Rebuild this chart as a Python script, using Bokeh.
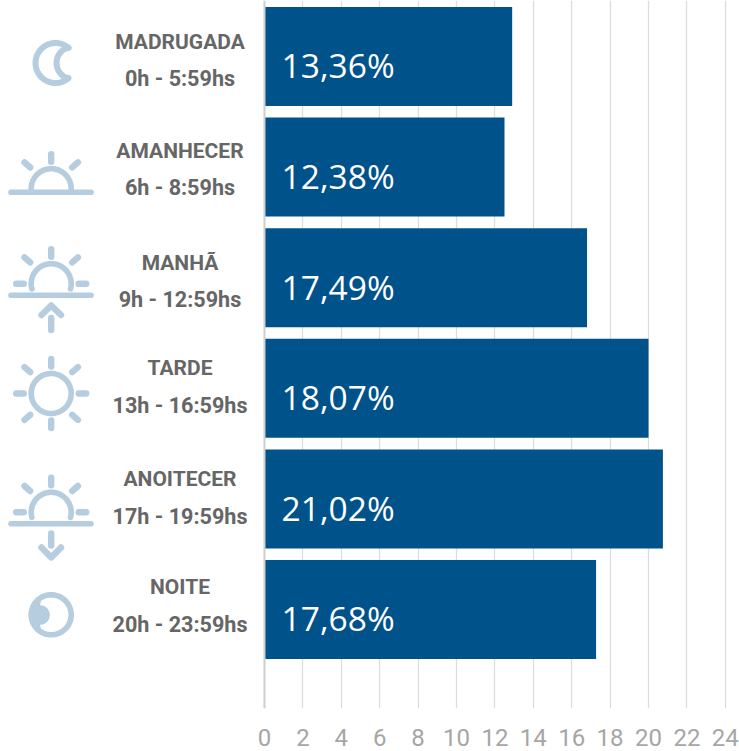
import numpy as np
from bokeh.plotting import figure
from bokeh.models import Range1d, FixedTicker, LinearAxis, Span, Grid
from bokeh.core.properties import value
from bokeh.embed import file_html
from bokeh.resources import INLINE

# data
periods = ["MADRUGADA", "AMANHECER", "MANHÃ", "TARDE", "ANOITECER", "NOITE"]
hours = ["0h - 5:59hs", "6h - 8:59hs", "9h - 12:59hs", "13h - 16:59hs", "17h - 19:59hs", "20h - 23:59hs"]
bar_lengths = [12.9, 12.5, 16.8, 20.0, 20.75, 17.27]
value_labels = ["13,36%", "12,38%", "17,49%", "18,07%", "21,02%", "17,68%"]
ticks = [0, 2, 4, 6, 8, 10, 12, 14, 16, 18, 20, 22, 24]

BLUE = "#00528a"
ICON = "#b5cddf"
GREY = "#666666"
PX = 19.2
X0 = 264.0
L, R, T, B = 0, 739, 0, 708
BOTTOM = 751
band = 110.6
bh = 99 / band

p = figure(width=R - L, height=BOTTOM - T, output_backend="svg", toolbar_location=None,
           x_range=Range1d((L - X0) / PX, (R - X0) / PX),
           y_range=Range1d((B - 56) / band, (T - 56) / band),
           min_border_left=0, min_border_right=0, min_border_top=0, min_border_bottom=BOTTOM - B,
           outline_line_color=None, x_axis_location=None, y_axis_location=None)

p.extra_x_ranges["px"] = Range1d(L, R)
p.extra_y_ranges["px"] = Range1d(B, T)

p.grid.visible = False
ax = LinearAxis(ticker=FixedTicker(ticks=ticks), axis_line_color=None,
                major_tick_line_color=None, minor_tick_line_color=None,
                major_label_text_font="Roboto", major_label_text_font_size="24px",
                major_label_text_color="#a6a6a6", major_label_standoff=14)
p.add_layout(ax, "below")
p.add_layout(Grid(dimension=0, ticker=FixedTicker(ticks=ticks), grid_line_color="#dddddd", grid_line_width=1.3))

ys = list(range(6))
p.add_layout(Span(location=0, dimension="height", line_color="#d0d0d0", line_width=2))
p.hbar(y=ys, right=bar_lengths, left=0, height=bh, fill_color=BLUE, line_color=None)
p.text(x=[0.89] * 6, y=[i + 0.08 for i in ys], text=value_labels, text_color="#ffffff",
       text_font=value("Open Sans"), text_font_size="33.5px", text_baseline="middle", text_align="left")

# labels
ty1 = [41, 150, 262, 367, 478, 586]
ty2 = [78, 187, 299, 405, 516, 624]
tx = [179.5] * 6
for ty, tt, fs in ((ty1, periods, "21px"), (ty2, hours, "21.6px")):
    p.text(x=tx, y=ty, text=tt, x_range_name="px", y_range_name="px", text_color=GREY,
           text_font=value("Roboto"), text_font_style="bold", text_font_size=fs,
           text_align="center", text_baseline="middle")

# icons (decoration), in page pixels
def arc(cx, cy, r, a0, a1, n=60):
    a = np.radians(np.linspace(a0, a1, n))
    return list(cx + r * np.cos(a)), list(cy + r * np.sin(a))

def stroke(xs, ys, w=5.6):
    p.line(xs, ys, x_range_name="px", y_range_name="px", line_color=ICON, line_width=w,
           line_cap="round", line_join="round")

RAY = 6.4

def rays(cy, side=True, bottom=False, cx=50.7):
    stroke([cx, cx], [cy - 34.5, cy - 27], RAY)
    for s in (-1, 1):
        stroke([cx + s * 26.7, cx + s * 21], [cy - 26.3, cy - 21.3], RAY)
        if side:
            stroke([cx + s * 35, cx + s * 27.5], [cy, cy], RAY)
        if bottom:
            stroke([cx + s * 26.7, cx + s * 21], [cy + 26.3, cy + 21.3], RAY)
    if bottom:
        stroke([cx, cx], [cy + 27, cy + 34.5], RAY)

# moon
ox, oy = arc(55, 62.5, 20, -49, -311, 60)
ix, iy = arc(72, 62.5, 16, 105, 255, 40)
stroke(ox + ix + [ox[0]], oy + iy + [oy[0]], 6)

cx = 50.7
hx = [10.5, 90.5]
# sunrise
stroke(hx, [191.7, 191.7])
x, y = arc(cx, 188.2, 20, 170, 370)
stroke(x, y)
rays(188.2, side=False)

# morning
stroke(hx, [294.7, 294.7])
x, y = arc(cx, 283.2, 20, 165, 375)
stroke(x, y)
rays(283.2)
stroke([cx, cx], [317.5, 329.5], RAY)
stroke([41, cx, 60.5], [314.5, 305, 314.5], RAY)

# afternoon
x, y = arc(cx, 393, 20, 0, 360)
stroke(x, y)
rays(393, bottom=True)

# dusk
stroke(hx, [523.3, 523.3])
x, y = arc(cx, 511.8, 20, 165, 375)
stroke(x, y)
rays(511.8)
stroke([cx, cx], [533, 545], RAY)
stroke([41, cx, 60.5], [547, 557, 547], RAY)

# night
x, y = arc(cx, 614.3, 20, 0, 360)
stroke(x, y)
x1, y1 = arc(cx, 614.3, 20, 118, 242)
x2, y2 = arc(39.5, 614.5, 9.8, -90, 90)
p.patch(x1 + x2, y1 + y2, x_range_name="px", y_range_name="px", fill_color=ICON, line_color=None)

open("out.html", "w").write(file_html(p, INLINE))
